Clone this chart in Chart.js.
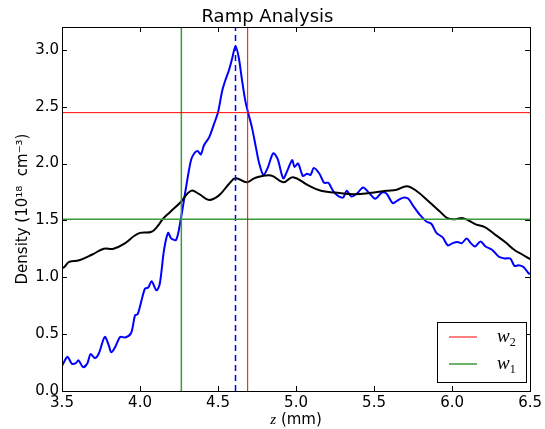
<!DOCTYPE html>
<html>
<head>
<meta charset="utf-8">
<script src="https://cdn.jsdelivr.net/npm/chart.js@4.4.0/dist/chart.umd.min.js"></script>
<style>
  html, body { margin: 0; padding: 0; background: #ffffff; }
  #contenedorRampa { width: 545px; height: 429px; }
</style>
</head>
<body>
<div id="contenedorRampa"><canvas id="graficaRampa"></canvas></div>
<script>

/* DATOS */
const zAzul = [3.50, 3.515, 3.536, 3.563, 3.589, 3.606, 3.635, 3.663, 3.683, 3.711, 3.736, 3.774, 3.80, 3.816, 3.842,
  3.873, 3.905, 3.943, 3.968, 3.985, 4.015, 4.032, 4.053, 4.074, 4.106, 4.127, 4.154, 4.18, 4.20, 4.232, 4.26,
  4.295, 4.327, 4.348, 4.369, 4.39, 4.41, 4.443, 4.475, 4.50, 4.527, 4.549, 4.57, 4.59, 4.612, 4.633, 4.654,
  4.675, 4.692, 4.717, 4.743, 4.764, 4.791, 4.818, 4.854, 4.882, 4.918, 4.945, 4.975, 4.99, 5.013, 5.044, 5.07,
  5.093, 5.114, 5.15, 5.18, 5.207, 5.245, 5.30, 5.325, 5.354, 5.39, 5.43, 5.466, 5.508, 5.55, 5.58, 5.62, 5.645,
  5.688, 5.72, 5.75, 5.793, 5.835, 5.867, 5.90, 5.94, 5.973, 6.004, 6.036, 6.063, 6.093, 6.12, 6.147, 6.183,
  6.215, 6.258, 6.30, 6.34, 6.373, 6.40, 6.426, 6.458, 6.49, 6.50];
const densAzul = [0.22, 0.26, 0.30, 0.24, 0.245, 0.27, 0.21, 0.245, 0.325, 0.29, 0.33, 0.475, 0.40, 0.34, 0.39,
  0.475, 0.47, 0.51, 0.665, 0.675, 0.825, 0.90, 0.91, 0.965, 0.885, 0.945, 1.24, 1.39, 1.34, 1.33, 1.50,
  1.79, 2.03, 2.09, 2.11, 2.08, 2.16, 2.23, 2.35, 2.45, 2.64, 2.74, 2.82, 2.92, 3.03, 2.93, 2.73,
  2.55, 2.45, 2.32, 2.14, 2.00, 1.90, 1.96, 2.09, 2.04, 1.87, 1.94, 2.03, 1.97, 2.00, 1.89, 1.91,
  1.90, 1.96, 1.91, 1.83, 1.83, 1.745, 1.70, 1.76, 1.71, 1.735, 1.79, 1.745, 1.69, 1.745, 1.735, 1.65, 1.67,
  1.70, 1.69, 1.63, 1.55, 1.49, 1.47, 1.39, 1.35, 1.28, 1.30, 1.31, 1.30, 1.34, 1.30, 1.27, 1.315,
  1.27, 1.24, 1.18, 1.165, 1.165, 1.10, 1.105, 1.09, 1.035, 1.03];

const zNegro = [3.50, 3.515, 3.546, 3.61, 3.694, 3.768, 3.83, 3.905, 3.96, 4.00, 4.074, 4.116, 4.145, 4.19, 4.26,
  4.327, 4.38, 4.443, 4.506, 4.57, 4.612, 4.685, 4.74, 4.84, 4.918, 4.98, 5.076, 5.16, 5.25, 5.37, 5.50,
  5.58, 5.645, 5.71, 5.77, 5.856, 5.92, 5.97, 6.02, 6.07, 6.152, 6.21, 6.28, 6.34, 6.40, 6.45, 6.50];
const densNegro = [1.08, 1.09, 1.135, 1.15, 1.20, 1.25, 1.25, 1.30, 1.36, 1.39, 1.40, 1.455, 1.51, 1.57, 1.66,
  1.76, 1.73, 1.68, 1.72, 1.82, 1.87, 1.835, 1.875, 1.895, 1.835, 1.88, 1.81, 1.76, 1.745, 1.73, 1.745,
  1.76, 1.77, 1.80, 1.76, 1.66, 1.58, 1.52, 1.51, 1.52, 1.465, 1.44, 1.37, 1.31, 1.24, 1.20, 1.16];

const ticksZ = [3.5, 4.0, 4.5, 5.0, 5.5, 6.0, 6.5];
const ticksDens = [0.0, 0.5, 1.0, 1.5, 2.0, 2.5, 3.0];

/* niveles w1 / w2 y pico */
const nivelW2 = 2.447;
const zW2 = 4.69;
const nivelW1 = 1.509;
const zW1 = 4.265;
const zPico = 4.612;

const etiquetasLeyenda = ['w', 'w'];
const subLeyenda = ['2', '1'];
const coloresLeyenda = ['#ff0000', '#3a9a3a'];

const fuente = "'DejaVu Sans', sans-serif";

function puntos(xs, ys) {
  return xs.map((x, i) => ({ x: x, y: ys[i] }));
}

/* MARCO, TICKS HACIA DENTRO, ETIQUETA Z Y LEYENDA */
const marcoPlugin = {
  id: 'marcoRampa',
  afterDatasetsDraw(chart) {
    const ctx = chart.ctx;
    const a = chart.chartArea;
    const ex = chart.scales.x;
    const ey = chart.scales.y;
    ctx.save();
    ctx.strokeStyle = '#000000';
    ctx.lineWidth = 1;
    ctx.beginPath();
    ticksZ.forEach(v => {
      const px = Math.round(ex.getPixelForValue(v)) + 0.5;
      ctx.moveTo(px, a.bottom); ctx.lineTo(px, a.bottom - 5);
      ctx.moveTo(px, a.top); ctx.lineTo(px, a.top + 5);
    });
    ticksDens.forEach(v => {
      const py = Math.round(ey.getPixelForValue(v)) + 0.5;
      ctx.moveTo(a.left, py); ctx.lineTo(a.left + 5, py);
      ctx.moveTo(a.right, py); ctx.lineTo(a.right - 5, py);
    });
    ctx.stroke();
    ctx.strokeRect(Math.round(a.left) + 0.5, Math.round(a.top) + 0.5,
      Math.round(a.right - a.left), Math.round(a.bottom - a.top));
    ctx.restore();
  },
  afterDraw(chart) {
    const ctx = chart.ctx;
    const a = chart.chartArea;
    ctx.save();

    /* etiqueta eje x */
    ctx.fillStyle = '#000000';
    ctx.textBaseline = 'alphabetic';
    const fZ = "italic 15px 'Liberation Serif', serif";
    const fMm = "15px " + fuente;
    ctx.font = fZ;
    const anchoZ = ctx.measureText('z').width;
    ctx.font = fMm;
    const anchoMm = ctx.measureText(' (mm)').width;
    let inicio = (a.left + a.right) / 2 - (anchoZ + anchoMm) / 2;
    ctx.font = fZ;
    ctx.fillText('z', inicio, 424);
    ctx.font = fMm;
    ctx.fillText(' (mm)', inicio + anchoZ, 424);

    /* leyenda */
    const cajaX = 437.5, cajaY = 322.5, cajaW = 89, cajaH = 60;
    ctx.fillStyle = '#ffffff';
    ctx.fillRect(cajaX, cajaY, cajaW, cajaH);
    ctx.strokeStyle = '#000000';
    ctx.lineWidth = 1;
    ctx.strokeRect(cajaX, cajaY, cajaW, cajaH);
    etiquetasLeyenda.forEach((txt, i) => {
      const yy = 337 + i * 27;
      ctx.strokeStyle = coloresLeyenda[i];
      ctx.lineWidth = i === 0 ? 1 : 1.5;
      ctx.beginPath();
      ctx.moveTo(449, yy);
      ctx.lineTo(477, yy);
      ctx.stroke();
      ctx.fillStyle = '#000000';
      ctx.font = "italic 19px 'Liberation Serif', serif";
      ctx.fillText(txt, 497, yy + 5);
      const w = ctx.measureText(txt).width;
      ctx.font = "12px 'Liberation Serif', serif";
      ctx.fillText(subLeyenda[i], 497 + w, yy + 9);
    });
    ctx.restore();
  }
};

let grafica = document.querySelector('#graficaRampa').getContext('2d');

new Chart(grafica, {
  type: 'line',
  data: {
    datasets: [
      {
        label: 'w2 horizontal',
        data: [{ x: 3.5, y: nivelW2 }, { x: 6.5, y: nivelW2 }],
        borderColor: '#ff0000', borderWidth: 1, pointRadius: 0, order: 0
      },
      {
        label: 'w2 vertical',
        data: [{ x: zW2, y: 0 }, { x: zW2, y: 3.2 }],
        borderColor: '#ff0000', borderWidth: 1, pointRadius: 0, order: 0
      },
      {
        label: 'w1 horizontal',
        data: [{ x: 3.5, y: nivelW1 }, { x: 6.5, y: nivelW1 }],
        borderColor: '#3a9a3a', borderWidth: 1.5, pointRadius: 0, order: 0
      },
      {
        label: 'w1 vertical',
        data: [{ x: zW1, y: 0 }, { x: zW1, y: 3.2 }],
        borderColor: '#3a9a3a', borderWidth: 1.5, pointRadius: 0, order: 0
      },
      {
        label: 'pico',
        data: [{ x: zPico, y: 0 }, { x: zPico, y: 3.2 }],
        borderColor: '#0000ff', borderWidth: 1.5, borderDash: [6, 4], pointRadius: 0, order: 0
      },
      {
        label: 'densidad suavizada',
        data: puntos(zNegro, densNegro),
        borderColor: '#000000', borderWidth: 2, pointRadius: 0, tension: 0.4, order: 1
      },
      {
        label: 'densidad',
        data: puntos(zAzul, densAzul),
        borderColor: '#0000ff', borderWidth: 2, pointRadius: 0, tension: 0.3, order: 1
      }
    ]
  },
  options: {
    responsive: true,
    maintainAspectRatio: false,
    animation: false,
    layout: { padding: { left: 0, right: 10, top: 0, bottom: 0 } },
    plugins: {
      legend: { display: false },
      tooltip: { enabled: false },
      title: {
        display: true,
        text: 'Ramp Analysis',
        color: '#000000',
        font: { size: 18, family: fuente, weight: 'normal', lineHeight: 1.0 },
        padding: { top: 8, bottom: 1 }
      }
    },
    scales: {
      x: {
        type: 'linear',
        min: 3.5,
        max: 6.5,
        afterBuildTicks: (s) => { s.ticks = ticksZ.map(v => ({ value: v })); },
        afterFit: (s) => { s.height = 38; },
        grid: { display: false, drawTicks: false },
        border: { display: false },
        ticks: {
          color: '#000000',
          padding: 3,
          maxRotation: 0,
          font: { size: 15, family: fuente },
          callback: (v) => Number(v).toFixed(1)
        }
      },
      y: {
        min: 0,
        max: 3.2,
        afterBuildTicks: (s) => { s.ticks = ticksDens.map(v => ({ value: v })); },
        afterFit: (s) => { s.width = 62; },
        grid: { display: false, drawTicks: false },
        border: { display: false },
        title: {
          display: true,
          text: 'Density (10\u00B9\u2078  cm\u207B\u00B3)',
          color: '#000000',
          font: { size: 15, family: fuente },
          padding: { top: 14, bottom: 0 }
        },
        ticks: {
          color: '#000000',
          padding: 3,
          font: { size: 15, family: fuente },
          callback: (v) => Number(v).toFixed(1)
        }
      }
    }
  },
  plugins: [marcoPlugin]
});
</script>
</body>
</html>
